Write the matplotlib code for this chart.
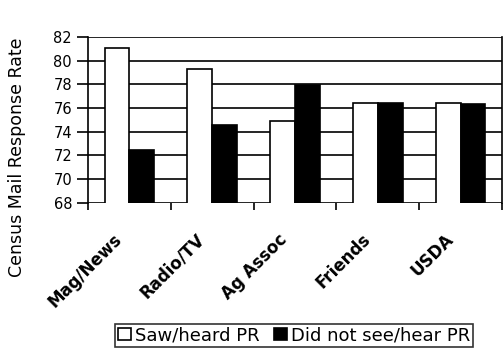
import matplotlib.pyplot as plt
import numpy as np

categories = ["Mag/News", "Radio/TV", "Ag Assoc", "Friends", "USDA"]
saw_heard = [81.1, 79.3, 74.9, 76.4, 76.4]
did_not = [72.5, 74.6, 77.9, 76.4, 76.3]

fig = plt.figure(figsize=(5.03, 3.51), dpi=100)
ax = fig.add_axes([0.175, 0.422, 0.823, 0.473])

x = np.arange(len(categories)) + 0.5
w = 0.3
ax.bar(x - w / 2, saw_heard, w, color="white", edgecolor="black",
       linewidth=1.2, label="Saw/heard PR", zorder=3)
ax.bar(x + w / 2, did_not, w, color="black", edgecolor="black",
       linewidth=1.2, label="Did not see/hear PR", zorder=3)

ax.set_ylim(68, 82)
ax.set_xlim(0, len(categories))
ax.set_yticks(range(68, 83, 2))
ax.tick_params(axis="y", labelsize=10.5, length=8, width=1.2, direction="out")
ax.yaxis.grid(True, color="black", linewidth=1.2, zorder=0)

# category boundaries get the ticks, names sit between them
ax.set_xticks(range(len(categories) + 1))
ax.set_xticklabels([])
ax.tick_params(axis="x", length=5, width=1.2, direction="out")
for xi, name in zip(x, categories):
    ax.text(xi - 0.2, 65.7, name, rotation=45, ha="right", va="top",
            rotation_mode="anchor", fontsize=12, fontweight="bold",
            transform=ax.transData)

for s in ["top", "bottom"]:
    ax.spines[s].set_visible(False)
ax.spines["left"].set_linewidth(1.2)
ax.spines["right"].set_linewidth(1.2)

fig.text(0.034, 0.21, "Census Mail Response Rate", rotation=90,
         ha="center", va="bottom", fontsize=12.5)

leg = fig.legend(loc="upper center", bbox_to_anchor=(0.585, 0.078), ncol=2,
                 frameon=True, fancybox=False, edgecolor="black",
                 fontsize=13, handlelength=0.7, handleheight=0.7,
                 handletextpad=0.25, columnspacing=0.8, borderpad=0.15,
                 borderaxespad=0)
leg.get_frame().set_linewidth(1.2)

fig.savefig("out.png", dpi=100)
